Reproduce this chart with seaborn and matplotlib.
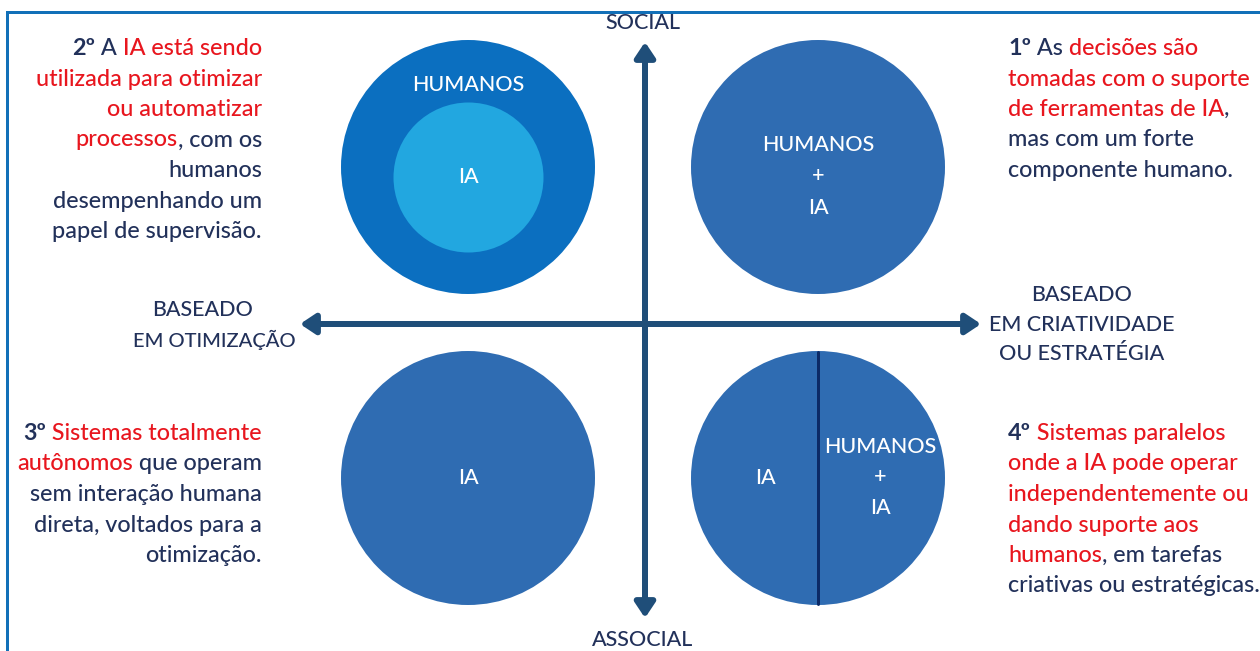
import matplotlib
matplotlib.use("Agg")
import matplotlib.pyplot as plt
import seaborn as sns
from matplotlib.patches import FancyArrowPatch

# ---------------- data (texts of the diagram) ----------------
AXIS_TOP = "SOCIAL"
AXIS_BOTTOM = "ASSOCIAL"
AXIS_LEFT = ["BASEADO", "EM OTIMIZAÇÃO"]
AXIS_RIGHT = ["BASEADO", "EM CRIATIVIDADE", "OU ESTRATÉGIA"]

Q2_LINES = [
    [("2º", "b"), (" A", "d"), (" IA está sendo", "r")],
    [("utilizada para otimizar", "r")],
    [("ou automatizar", "r")],
    [("processos", "r"), (", com os", "d")],
    [("humanos", "d")],
    [("desempenhando um", "d")],
    [("papel de supervisão.", "d")],
]
Q1_LINES = [
    [("1º", "b"), (" As", "d"), (" decisões são", "r")],
    [("tomadas com o suporte", "r")],
    [("de ferramentas de IA", "r"), (",", "d")],
    [("mas com um forte", "d")],
    [("componente humano.", "d")],
]
Q3_LINES = [
    [("3º", "b"), (" Sistemas totalmente", "r")],
    [("autônomos", "r"), (" que operam", "d")],
    [("sem interação humana", "d")],
    [("direta, voltados para a", "d")],
    [("otimização.", "d")],
]
Q4_LINES = [
    [("4º", "b"), (" Sistemas paralelos", "r")],
    [("onde a IA pode operar", "r")],
    [("independentemente ou", "r")],
    [("dando suporte aos", "r")],
    [("humanos", "r"), (", em tarefas", "d")],
    [("criativas ou estratégicas.", "d")],
]
Q2_CIRCLE = ["HUMANOS", "IA"]
Q1_CIRCLE = ["HUMANOS", "+", "IA"]
Q3_CIRCLE = ["IA"]
Q4_CIRCLE_LEFT = ["IA"]
Q4_CIRCLE_RIGHT = ["HUMANOS", "+", "IA"]

# ---------------- style ----------------
DARK = "#22315a"
RED = "#e8161e"
ARROW = "#1f4e79"
FRAME = "#1270b8"
OUTER_TL = "#0b6fc0"
INNER_TL = "#22a7e0"
CIRC = "#2f6cb2"
DIVIDER = "#0c2a66"
WEIGHT = "medium"

sns.set_theme(style="white")
plt.rcParams["font.family"] = ["Lato", "DejaVu Sans"]

W, H, DPI = 1260, 651, 100
PT = 72 / DPI  # points per pixel

fig = plt.figure(figsize=(W / DPI, H / DPI), dpi=DPI)
ax = fig.add_axes([0, 0, 1, 1])
ax.set_xlim(0, W)
ax.set_ylim(H, 0)
ax.axis("off")

# frame
ax.plot([7, 7, W + 5], [H + 5, 12, 12], color=FRAME, lw=3 * PT,
        solid_joinstyle="miter", solid_capstyle="butt")

# circles (seaborn scatter, marker size = diameter in points squared)
def circles(xs, ys, colors, radius_px):
    s = (2 * radius_px * PT) ** 2
    sns.scatterplot(x=xs, y=ys, hue=list(range(len(xs))), palette=colors,
                    s=s, linewidth=0, legend=False, ax=ax, zorder=2)

circles([468, 818, 468, 818], [167, 167, 478, 478],
        [OUTER_TL, CIRC, CIRC, CIRC], 127)
circles([468], [177], [INNER_TL], 75)
ax.plot([818, 818], [352, 604], color=DIVIDER, lw=3 * PT, zorder=3)

# arrows
def arrow(p0, p1):
    a = FancyArrowPatch(p0, p1, arrowstyle="<|-|>,head_length=0.45,head_width=0.3",
                        mutation_scale=20, lw=6 * PT, color=ARROW,
                        shrinkA=0, shrinkB=0, zorder=3)
    ax.add_patch(a)

arrow((645, 42), (645, 618))
arrow((300, 324), (981, 324))

# axis labels
AX_FS = 15.5
ax.text(643, 23, AXIS_TOP, ha="center", va="center", color=DARK,
        fontsize=AX_FS, fontweight=WEIGHT)
ax.text(643, 640, AXIS_BOTTOM, ha="center", va="center", color=DARK,
        fontsize=AX_FS, fontweight=WEIGHT)
for txt, cx, cy, fs in zip(AXIS_LEFT, [203, 214], [310, 340], [AX_FS, 14.5]):
    ax.text(cx, cy, txt, ha="center", va="center", color=DARK,
            fontsize=fs, fontweight=WEIGHT)
for txt, cy in zip(AXIS_RIGHT, [295, 325, 354]):
    ax.text(1082, cy, txt, ha="center", va="center", color=DARK,
            fontsize=AX_FS, fontweight=WEIGHT)

# circle labels
C_FS = 15.5
def clabels(lines, cx, ys):
    for t, y in zip(lines, ys):
        ax.text(cx, y, t, ha="center", va="center", color="white",
                fontsize=C_FS, fontweight=WEIGHT, zorder=4)

clabels(Q2_CIRCLE, 468, [85, 177])
clabels(Q1_CIRCLE, 818, [145, 176, 208])
clabels(Q3_CIRCLE, 468, [478])
clabels(Q4_CIRCLE_LEFT, 765, [478])
clabels(Q4_CIRCLE_RIGHT, 880, [447, 477, 508])

# rich text blocks
B_FS = 16.8
STY = {"b": dict(color=DARK, fontweight="bold"),
       "d": dict(color=DARK, fontweight=WEIGHT),
       "r": dict(color=RED, fontweight=WEIGHT)}

def rich_line(x, y, segs, align):
    if align == "left":
        s, k = segs[0]
        t = ax.text(x, y, s, ha="left", va="baseline", fontsize=B_FS, **STY[k])
        for s, k in segs[1:]:
            t = ax.annotate(s, xy=(1, 0), xycoords=t, ha="left", va="bottom",
                            fontsize=B_FS, **STY[k])
    else:
        s, k = segs[-1]
        t = ax.text(x, y, s, ha="right", va="baseline", fontsize=B_FS, **STY[k])
        for s, k in reversed(segs[:-1]):
            t = ax.annotate(s, xy=(0, 0), xycoords=t, ha="right", va="bottom",
                            fontsize=B_FS, **STY[k])

def block(lines, x, y0, align, step=30.5):
    for i, segs in enumerate(lines):
        rich_line(x, y0 + i * step, segs, align)

block(Q2_LINES, 262, 55, "right")
block(Q1_LINES, 1008, 55, "left")
block(Q3_LINES, 262, 440, "right")
block(Q4_LINES, 1008, 440, "left")

fig.savefig("out.png", dpi=DPI, facecolor="white")
